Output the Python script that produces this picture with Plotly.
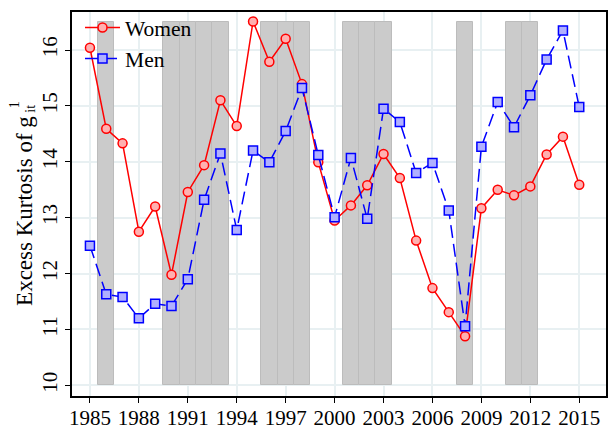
import plotly.graph_objects as go

years = list(range(1985, 2016))
women = [16.04, 14.59, 14.33, 12.75, 13.20, 11.98, 13.46, 13.94, 15.10, 14.64,
         16.51, 15.79, 16.20, 15.39, 13.99, 12.95, 13.22, 13.58, 14.14, 13.71,
         12.59, 11.74, 11.31, 10.88, 13.17, 13.50, 13.40, 13.56, 14.13, 14.45, 13.59]
men = [12.50, 11.63, 11.58, 11.20, 11.46, 11.42, 11.90, 13.32, 14.15, 12.78,
       14.20, 13.99, 14.55, 15.32, 14.12, 13.01, 14.07, 12.98, 14.95, 14.71,
       13.80, 13.98, 13.13, 11.06, 14.27, 15.07, 14.62, 15.19, 15.83, 16.35, 14.98]
recession_years = [1986, 1990, 1991, 1992, 1993, 1996, 1997, 1998,
                   2001, 2002, 2003, 2008, 2011, 2012]
shade_bottom = 10
shade_top = 16.5
x_ticks = list(range(1985, 2016, 3))
y_ticks = list(range(10, 17))
y_title = "Excess Kurtosis of g"
y_title_sub = "it"
y_title_sup = "1"

font_family = "Liberation Serif"

fig = go.Figure()
fig.add_trace(go.Bar(
    x=recession_years,
    y=[shade_top - shade_bottom] * len(recession_years),
    base=shade_bottom,
    width=1,
    marker=dict(color="#cbcbcb", line=dict(color="#bcbcbc", width=1)),
    showlegend=False, hoverinfo="skip"))
fig.add_trace(go.Scatter(
    x=years, y=women, name="Women", mode="lines+markers",
    line=dict(color="#ff0000", width=1.5),
    marker=dict(symbol="circle", size=9, color="#ffb0b0",
                line=dict(color="#ff0000", width=1.5))))
fig.add_trace(go.Scatter(
    x=years, y=men, name="Men", mode="lines+markers",
    line=dict(color="#0000ff", width=1.5, dash="13px,6px"),
    marker=dict(symbol="square", size=9, color="#b0b0ff",
                line=dict(color="#0000ff", width=1.5))))

fig.update_layout(
    width=613, height=428,
    margin=dict(l=72, r=7, t=10, b=32),
    plot_bgcolor="white", paper_bgcolor="white",
    font=dict(family=font_family, size=21, color="black"),
    showlegend=True,
    legend=dict(x=0.015, y=1.013, xanchor="left", yanchor="top",
                bgcolor="rgba(0,0,0,0)", font=dict(size=21.5, family=font_family),
                tracegroupgap=0, itemwidth=35),
    bargap=0,
    annotations=[
        dict(text=y_title, xref="paper", yref="paper", x=-0.088, y=0.482,
             xanchor="center", yanchor="middle", textangle=-90, showarrow=False,
             font=dict(size=23, family=font_family)),
        dict(text=y_title_sup, xref="paper", yref="paper", x=-0.106, y=0.758,
             xanchor="center", yanchor="middle", textangle=-90, showarrow=False,
             font=dict(size=14, family=font_family)),
        dict(text=y_title_sub, xref="paper", yref="paper", x=-0.078, y=0.749,
             xanchor="center", yanchor="middle", textangle=-90, showarrow=False,
             font=dict(size=14, family=font_family)),
    ],
)
fig.update_xaxes(
    range=[1983.9, 2016.64], tickvals=x_ticks, automargin=False,
    showgrid=True, gridcolor="#e8f0f2", gridwidth=1.5,
    showline=True, linecolor="black", linewidth=1.5, mirror=True,
    ticks="outside", ticklen=5, tickcolor="black", zeroline=False,
    ticklabelstandoff=-3,
    tickfont=dict(size=21, family=font_family))
fig.update_yaxes(
    range=[9.81, 16.68], tickvals=y_ticks, automargin=False,
    showgrid=True, gridcolor="#e8f0f2", gridwidth=1.5,
    showline=True, linecolor="black", linewidth=1.5, mirror=True,
    ticks="outside", ticklen=5, tickcolor="black", zeroline=False,
    tickangle=-90,
    tickfont=dict(size=21, family=font_family))

fig.write_html("out.html", config={"displayModeBar": False},
               post_script="document.body.style.margin='0px';")
